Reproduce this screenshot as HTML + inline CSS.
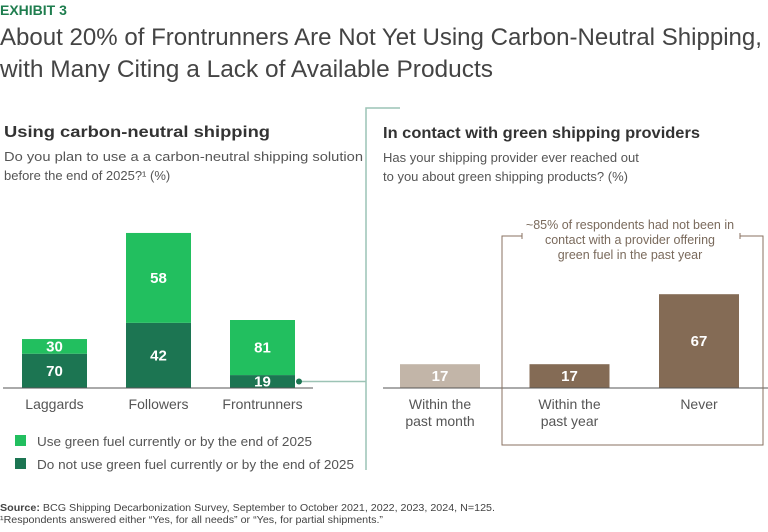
<!DOCTYPE html>
<html><head><meta charset="utf-8"><style>
body{margin:0;background:#fff;font-family:"Liberation Sans",sans-serif;}
svg text{font-family:"Liberation Sans",sans-serif;}
</style></head><body>
<svg id="c" width="768" height="527" viewBox="0 0 768 527" xmlns="http://www.w3.org/2000/svg">
<text x="0" y="15" font-size="14" font-weight="bold" fill="#1e7d4e">EXHIBIT 3</text>
<text x="0" y="45" font-size="24" fill="#444" textLength="762" lengthAdjust="spacingAndGlyphs">About 20% of Frontrunners Are Not Yet Using Carbon-Neutral Shipping,</text>
<text x="0" y="77" font-size="24" fill="#444" textLength="493" lengthAdjust="spacingAndGlyphs">with Many Citing a Lack of Available Products</text>
<text x="4" y="137" font-size="16" font-weight="bold" fill="#333" textLength="266" lengthAdjust="spacingAndGlyphs">Using carbon-neutral shipping</text>
<text x="4" y="161" font-size="13" fill="#555" textLength="359" lengthAdjust="spacingAndGlyphs">Do you plan to use a a carbon-neutral shipping solution</text>
<text x="4" y="180" font-size="13" fill="#555">before the end of 2025?¹ (%)</text>
<text x="383" y="138" font-size="16" font-weight="bold" fill="#333" textLength="317" lengthAdjust="spacingAndGlyphs">In contact with green shipping providers</text>
<text x="383" y="162" font-size="13" fill="#555">Has your shipping provider ever reached out</text>
<text x="383" y="181" font-size="13" fill="#555">to you about green shipping products? (%)</text>
<path d="M400 108 H366 V470" fill="none" stroke="#9cc3b5" stroke-width="1.5"/>
<g id="left"></g>
<g id="right"></g>
<path d="M522 233 V239 M522 236 H502 V445 H763 V236 H740 M740 233 V239" fill="none" stroke="#8a7260" stroke-width="1"/>
<text text-anchor="middle" font-size="12.5" fill="#7a6a5c"><tspan x="630" y="229">~85% of respondents had not been in</tspan><tspan x="630" y="244">contact with a provider offering</tspan><tspan x="630" y="259">green fuel in the past year</tspan></text>
<rect x="15" y="435" width="11" height="11" fill="#22bf5f"/>
<text x="37" y="446" font-size="13" fill="#555" textLength="275" lengthAdjust="spacingAndGlyphs">Use green fuel currently or by the end of 2025</text>
<rect x="15" y="458" width="11" height="11" fill="#1c7552"/>
<text x="37" y="469" font-size="13" fill="#555" textLength="317" lengthAdjust="spacingAndGlyphs">Do not use green fuel currently or by the end of 2025</text>
<text x="0" y="511" font-size="10" fill="#444" textLength="495" lengthAdjust="spacingAndGlyphs"><tspan font-weight="bold">Source:</tspan> BCG Shipping Decarbonization Survey, September to October 2021, 2022, 2023, 2024, N=125.</text>
<text x="0" y="523" font-size="10" fill="#444" textLength="383" lengthAdjust="spacingAndGlyphs">¹Respondents answered either “Yes, for all needs” or “Yes, for partial shipments.”</text>
</svg>
<script>
const leftCats=["Laggards","Followers","Frontrunners"];
const groupShare=[18,57,25];
const notUse=[70,42,19];
const useGreen=[30,58,81];
const rightCats=[["Within the","past month"],["Within the","past year"],["Never"]];
const rightVals=[17,17,67];
const NS="http://www.w3.org/2000/svg";
function mk(p,t,a,txt){const e=document.createElementNS(NS,t);for(const k in a)e.setAttribute(k,a[k]);if(txt!==undefined)e.textContent=txt;p.appendChild(e);return e;}
const base=388;
const L=document.getElementById('left');
const lx=i=>22+i*104, lw=65;
const gh=s=>s*2.72;
leftCats.forEach((c,i)=>{
  const H=gh(groupShare[i]);
  const hd=H*notUse[i]/100, hu=H*useGreen[i]/100;
  const r1=mk(L,'rect',{x:lx(i),y:base-hd,width:lw,height:hd,fill:'#1c7552'});
  
  
  const r2=mk(L,'rect',{x:lx(i),y:base-hd-hu,width:lw,height:hu,fill:'#22bf5f'});
  
  
  const t1=mk(L,'text',{x:lx(i)+lw/2,y:base-hd/2+5,'text-anchor':'middle','font-size':15,'font-weight':'bold',fill:'#fff'},notUse[i]);
  
  
  const t2=mk(L,'text',{x:lx(i)+lw/2,y:base-hd-hu/2+5,'text-anchor':'middle','font-size':15,'font-weight':'bold',fill:'#fff'},useGreen[i]);
  
  
  const t3=mk(L,'text',{x:lx(i)+lw/2,y:409,'text-anchor':'middle','font-size':14,fill:'#555'},c);
  
  
});
const ax=mk(L,'line',{x1:3,x2:313,y1:base,y2:base,stroke:'#555','stroke-width':1});


const H2=gh(groupShare[2]);
const cy=base-H2*notUse[2]/200;
const con=mk(L,'line',{x1:lx(2)+lw+4,x2:366,y1:cy,y2:cy,stroke:'#9cc3b5','stroke-width':1.5});


const dot=mk(L,'circle',{cx:lx(2)+lw+4,cy:cy,r:3,fill:'#1c7552'});


const R=document.getElementById('right');
const rx=i=>400+i*129.5, rw=80, rs=1.4;
const rcol=['#c2b5a8','#846b55','#846b55'];
rightVals.forEach((v,i)=>{
  const h=v*rs;
  const r=mk(R,'rect',{x:rx(i),y:base-h,width:rw,height:h,fill:rcol[i]});
  
  
  const t=mk(R,'text',{x:rx(i)+rw/2,y:base-h/2+5,'text-anchor':'middle','font-size':15,'font-weight':'bold',fill:'#fff'},v);
  
  
  rightCats[i].forEach((ln,j)=>{
    const l=mk(R,'text',{x:rx(i)+rw/2,y:409+j*17,'text-anchor':'middle','font-size':14,fill:'#555'},ln);
    
    
  });
});
const ax2=mk(R,'line',{x1:383,x2:768,y1:base,y2:base,stroke:'#555','stroke-width':1});


</script>
</body></html>
